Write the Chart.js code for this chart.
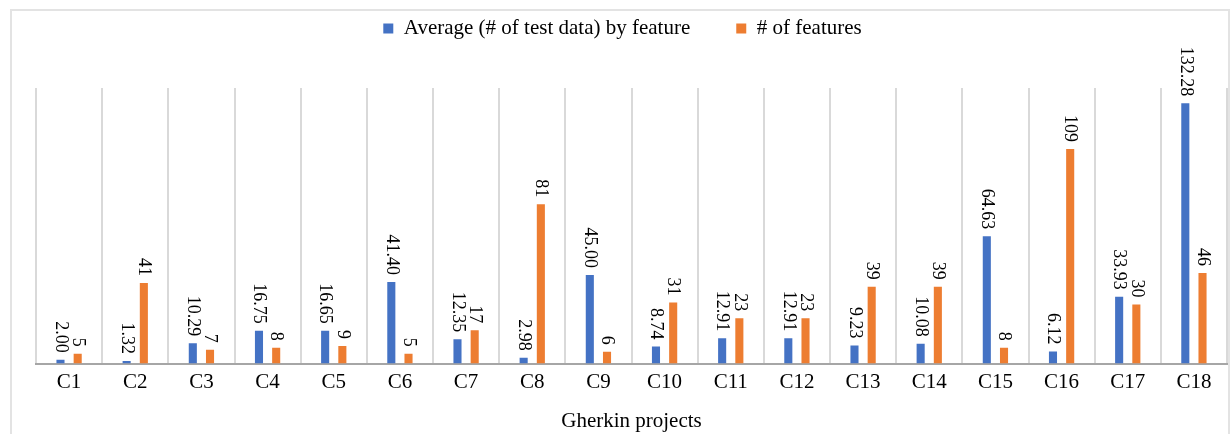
<!DOCTYPE html>
<html>
<head>
<meta charset="utf-8">
<script src="https://cdn.jsdelivr.net/npm/chart.js@4"></script>
<style>
  html, body { margin: 0; padding: 0; background: #fff; }
  #wrap { position: relative; width: 1231px; height: 434px; overflow: hidden; }
  #frame { position: absolute; left: 10px; top: 9px; width: 1220px; height: 460px; border: 2px solid #e3e3e3; box-sizing: border-box; }
  canvas { position: absolute; left: 0; top: 0; }
</style>
</head>
<body>
<div id="wrap">
  <div id="frame"></div>
  <canvas id="chartGherkin" width="1231" height="434"></canvas>
</div>
<script>
const projects = ['C1', 'C2', 'C3', 'C4', 'C5', 'C6', 'C7', 'C8', 'C9', 'C10', 'C11', 'C12', 'C13', 'C14', 'C15', 'C16', 'C17', 'C18'];
const avgTestData = [2.00, 1.32, 10.29, 16.75, 16.65, 41.40, 12.35, 2.98, 45.00, 8.74, 12.91, 12.91, 9.23, 10.08, 64.63, 6.12, 33.93, 132.28];
const numFeatures = [5, 41, 7, 8, 9, 5, 17, 81, 6, 31, 23, 23, 39, 39, 8, 109, 30, 46];

const serif = '"Liberation Serif", "Times New Roman", serif';

// fixed legend block height, legend items pulled up near the top
const legendGap = {
    id: 'legendGap',
    beforeInit(chart) {
        const fit = chart.legend.fit;
        chart.legend.fit = function () {
            fit.bind(chart.legend)();
            this.height = 77;
        };
    },
    afterLayout(chart) {
        chart.legend.top -= 39;
        chart.legend.left -= 9;
        chart.legend.right -= 9;
    }
};

// rotated value labels above each bar
const barLabels = {
    id: 'barLabels',
    afterDatasetsDraw(chart) {
        const ctx = chart.ctx;
        ctx.save();
        ctx.font = '18px ' + serif;
        ctx.fillStyle = '#000';
        ctx.textAlign = 'right';
        ctx.textBaseline = 'middle';
        chart.data.datasets.forEach((ds, i) => {
            chart.getDatasetMeta(i).data.forEach((bar, j) => {
                const v = ds.data[j];
                const txt = i === 0 ? v.toFixed(2) : String(v);
                ctx.save();
                ctx.translate(bar.x, bar.y);
                ctx.rotate(Math.PI / 2);
                ctx.fillText(txt, -7, 0);
                ctx.restore();
            });
        });
        ctx.restore();
    }
};

new Chart(document.getElementById('chartGherkin').getContext('2d'), {
    type: 'bar',
    data: {
        labels: projects,
        datasets: [{
            label: 'Average (# of test data) by feature',
            data: avgTestData,
            backgroundColor: '#4472c4',
            categoryPercentage: 0.52,
            barPercentage: 0.47
        }, {
            label: '# of features',
            data: numFeatures,
            backgroundColor: '#ed7d31',
            categoryPercentage: 0.52,
            barPercentage: 0.47
        }]
    },
    options: {
        responsive: false,
        animation: false,
        layout: {
            padding: { left: 36, right: 4, top: 11, bottom: 0 }
        },
        plugins: {
            legend: {
                display: true,
                position: 'top',
                labels: {
                    boxWidth: 10,
                    boxHeight: 10,
                    padding: 46,
                    color: '#000',
                    font: { family: serif, size: 21 }
                }
            },
            tooltip: { enabled: false }
        },
        scales: {
            y: {
                display: false,
                min: 0,
                max: 140
            },
            x: {
                grid: {
                    display: true,
                    offset: true,
                    color: '#d9d9d9',
                    lineWidth: 2,
                    drawTicks: false
                },
                border: { display: true, color: '#a6a6a6', width: 2 },
                ticks: {
                    color: '#000',
                    padding: 6,
                    font: { family: serif, size: 21 }
                },
                title: {
                    display: true,
                    text: 'Gherkin projects',
                    color: '#000',
                    padding: { top: 8, bottom: 0 },
                    font: { family: serif, size: 21 }
                }
            }
        }
    },
    plugins: [legendGap, barLabels]
});
</script>
</body>
</html>
